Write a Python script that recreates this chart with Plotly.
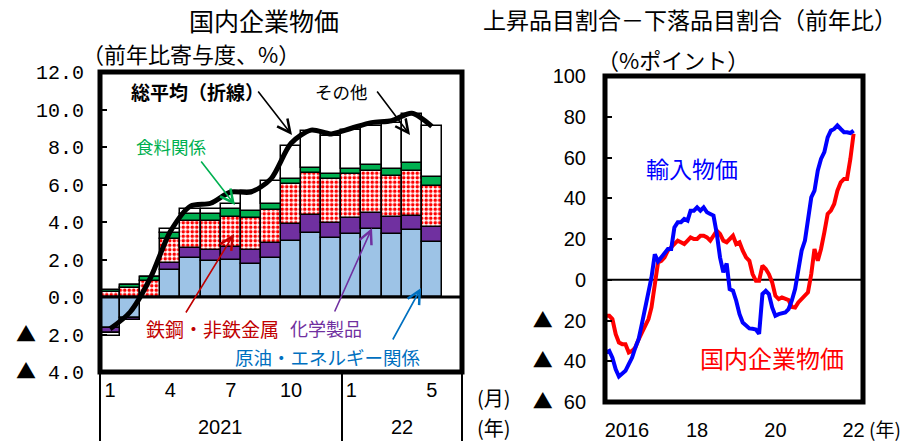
import pandas as pd
import plotly.graph_objects as go

W, H = 910, 441

# ---------------- left panel: contributions to domestic CGPI (y/y, %) ----------------
months = list(range(1, 18))  # 2021/1 .. 2022/5
month_ticks = [1, 4, 7, 10, 13, 17]
month_labels = ["1", "4", "7", "10", "1", "5"]

energy = [-1.65, -1.10, 0.00, 1.42, 2.06, 1.92, 1.96, 1.74, 2.06, 2.99, 3.43, 3.13, 3.38, 3.61, 3.34, 3.56, 2.93]
chemicals = [-0.25, -0.15, 0.00, 0.41, 0.53, 0.59, 0.71, 0.76, 0.83, 0.92, 0.94, 0.83, 0.85, 0.89, 0.92, 0.76, 0.80]
steel = [0.27, 0.50, 0.85, 1.25, 1.49, 1.55, 1.62, 1.72, 1.73, 2.13, 2.26, 2.31, 2.35, 2.22, 2.19, 2.40, 2.19]
food = [0.10, 0.15, 0.21, 0.35, 0.35, 0.39, 0.39, 0.39, 0.35, 0.23, 0.27, 0.30, 0.23, 0.30, 0.36, 0.41, 0.48]
other = [-0.20, 0.00, 0.00, 0.18, 0.29, 0.27, 0.30, 1.03, 1.21, 1.78, 1.96, 2.01, 2.08, 2.10, 2.49, 2.61, 2.72]
total = [-1.7, -0.8, 1.0, 3.5, 4.85, 5.0, 5.6, 5.6, 6.3, 8.2, 8.9, 8.7, 9.0, 9.3, 9.4, 9.8, 9.1]

TRI = "<span style=\"font-family:'Noto Sans CJK JP'\">▲</span>"
left_yticks = [-4, -2, 0, 2, 4, 6, 8, 10, 12]
left_ylabels = [TRI + "\u00a04.0", TRI + "\u00a02.0", "0.0", "2.0", "4.0", "6.0", "8.0", "10.0", "12.0"]

# ---------------- right panel: share rising minus share falling (y/y, % points) ----------------
dates = pd.date_range("2016-01-01", "2022-05-01", freq="MS")
import_prices = [
    -35.7, -34.9, -38.2, -43.9, -47.5, -46.3, -44.7, -41.4, -38.2, -33.3, -29.2, -21.8,
    -13.6, -4.6, 1.1, 12.5, 9.0, 11.0, 13.4, 15.1, 15.1, 25.7, 28.2, 28.2,
    29.8, 29.0, 33.9, 33.9, 35.5, 33.9, 35.5, 33.1, 32.3, 31.5, 22.5, 11.0,
    3.6, 8.0, -4.6, -5.4, -10.3, -16.9, -21.0, -22.6, -23.9, -24.1, -24.4, -26.6,
    -7.0, -5.4, -7.0, -13.6, -17.7, -16.9, -16.6, -16.1, -14.4, -10.3, -4.6, 3.6,
    14.3, 19.2, 29.0, 40.4, 43.7, 53.6, 59.3, 62.6, 69.9, 73.2, 74.0, 75.7,
    74.0, 72.4, 72.4, 72.0, 73.2,
]
domestic_prices = [
    -17.7, -17.7, -19.3, -26.7, -30.8, -31.6, -31.6, -35.7, -34.9, -33.3, -29.2, -25.9,
    -21.8, -19.3, -13.6, -0.5, 8.5, 9.3, 11.0, 14.3, 15.9, 17.5, 19.2, 18.4,
    17.5, 19.2, 20.8, 20.0, 20.0, 21.6, 21.6, 20.8, 19.2, 21.6, 24.1, 22.5,
    19.2, 18.4, 20.0, 21.6, 17.5, 18.4, 14.3, 11.0, 9.3, 2.8, -0.5, -0.5,
    6.9, 5.3, 2.8, -1.3, -7.9, -9.5, -8.7, -9.5, -10.0, -13.3, -13.6, -11.1,
    -9.5, -7.9, -6.2, 2.8, 15.1, 9.3, 15.1, 23.3, 32.3, 33.9, 37.2, 43.7,
    47.8, 49.5, 49.5, 59.3, 71.6,
]
year_ticks = ["2016-07-15", "2018-05-01", "2020-05-01", "2022-05-01"]
year_labels = ["2016", "18", "20", "22"]
right_yticks = [-60, -40, -20, 0, 20, 40, 60, 80, 100]
right_ylabels = [TRI + "\u00a0\u00a060", TRI + "\u00a0\u00a040", TRI + "\u00a0\u00a020",
                 "0", "20", "40", "60", "80", "100"]

JP = "Noto Sans CJK JP"
NUM = "Liberation Sans, Noto Sans CJK JP"
MONO = "Liberation Mono, Noto Sans CJK JP"


def px(x):
    return x / W


def py(y):
    return 1 - y / H


LEFT_DOM_X = [px(100), px(462)]
LEFT_DOM_Y = [py(372), py(72)]
RIGHT_DOM_X = [px(605), px(863)]
RIGHT_DOM_Y = [py(402), py(76)]

fig = go.Figure()

edge = dict(color="black", width=1.5)
fig.add_trace(go.Bar(x=months, y=energy, marker=dict(color="#9dc3e6", line=edge), name="原油・エネルギー関係"))
fig.add_trace(go.Bar(x=months, y=chemicals, marker=dict(color="#7030a0", line=edge), name="化学製品"))
fig.add_trace(go.Bar(
    x=months, y=steel, name="鉄鋼・非鉄金属",
    marker=dict(color="white", line=edge,
                pattern=dict(shape=".", fgcolor="#ff0000", bgcolor="white", size=4.5, solidity=0.5, fillmode="replace")),
))
fig.add_trace(go.Bar(x=months, y=food, marker=dict(color="#00b050", line=edge), name="食料関係"))
fig.add_trace(go.Bar(x=months, y=other, marker=dict(color="white", line=edge), name="その他"))
fig.add_trace(go.Scatter(x=months, y=total, mode="lines", name="総平均",
                         line=dict(color="black", width=5, shape="spline", smoothing=0.8)))

fig.add_trace(go.Scatter(x=dates, y=domestic_prices, mode="lines", name="国内企業物価",
                         line=dict(color="#ff0000", width=4), xaxis="x2", yaxis="y2"))
fig.add_trace(go.Scatter(x=dates, y=import_prices, mode="lines", name="輸入物価",
                         line=dict(color="#0000ff", width=4), xaxis="x2", yaxis="y2"))

fig.update_layout(
    width=W, height=H, margin=dict(l=0, r=0, t=0, b=0, autoexpand=False),
    paper_bgcolor="white", plot_bgcolor="white", showlegend=False,
    barmode="relative", bargap=0,
    xaxis=dict(domain=LEFT_DOM_X, range=[0.5, 18.5], tickvals=month_ticks, ticktext=month_labels,
               ticks="", showgrid=False, zeroline=False, showline=False, automargin=False,
               tickfont=dict(family=NUM, size=20, color="black"), ticklabelstandoff=4),
    yaxis=dict(domain=LEFT_DOM_Y, range=[-4, 12], tickvals=left_yticks, ticktext=left_ylabels,
               ticks="inside", ticklen=7, tickwidth=2, tickcolor="black", automargin=False,
               showgrid=False, zeroline=False, showline=False,
               tickfont=dict(family=MONO, size=20, color="black"), ticklabelstandoff=15),
    xaxis2=dict(domain=RIGHT_DOM_X, type="date", range=["2015-12-23", "2022-07-28"],
                tickvals=year_ticks, ticktext=year_labels, ticks="", showgrid=False,
                zeroline=False, showline=False, anchor="y2", automargin=False,
                tickfont=dict(family=NUM, size=20, color="black"), ticklabelstandoff=14),
    yaxis2=dict(domain=RIGHT_DOM_Y, range=[-60, 100], tickvals=right_yticks, ticktext=right_ylabels,
                ticks="inside", ticklen=7, tickwidth=2, tickcolor="black", anchor="x2",
                showgrid=False, zeroline=False, showline=False, automargin=False,
                tickfont=dict(family=NUM, size=20, color="black"), ticklabelstandoff=18),
)

shapes = [
    # frames
    dict(type="rect", xref="paper", yref="paper", x0=LEFT_DOM_X[0], x1=LEFT_DOM_X[1],
         y0=LEFT_DOM_Y[0], y1=LEFT_DOM_Y[1], line=dict(color="black", width=5), layer="above"),
    dict(type="rect", xref="paper", yref="paper", x0=RIGHT_DOM_X[0], x1=RIGHT_DOM_X[1],
         y0=RIGHT_DOM_Y[0], y1=RIGHT_DOM_Y[1], line=dict(color="black", width=5), layer="above"),
    # zero lines
    dict(type="line", xref="paper", yref="y", x0=LEFT_DOM_X[0], x1=LEFT_DOM_X[1], y0=0, y1=0,
         line=dict(color="black", width=3), layer="above"),
    dict(type="line", xref="paper", yref="y2", x0=RIGHT_DOM_X[0], x1=RIGHT_DOM_X[1], y0=0, y1=0,
         line=dict(color="black", width=2), layer="below"),
]
# month / year table under the left panel
for xv in (100, 342, 462):
    shapes.append(dict(type="line", xref="paper", yref="paper", x0=px(xv), x1=px(xv),
                       y0=py(372), y1=0, line=dict(color="black", width=2)))
fig.update_layout(shapes=shapes)


def label(text, x, y, size, color="black", bold=False, family=JP, xanchor="center"):
    if bold:
        text = "<b>" + text + "</b>"
    fig.add_annotation(text=text, x=px(x), y=py(y), xref="paper", yref="paper",
                       xanchor=xanchor, yanchor="middle", showarrow=False,
                       font=dict(family=family, size=size, color=color))


def arrow(x_tail, y_tail, x_head, y_head, color):
    fig.add_annotation(text="", x=px(x_head), y=py(y_head), xref="paper", yref="paper",
                       ax=x_tail - x_head, ay=y_tail - y_head, showarrow=True,
                       arrowhead=5, arrowsize=1.6, arrowwidth=1.6, arrowcolor=color)


# titles
label("国内企業物価", 264, 20, 25)
label("（前年比寄与度、%）", 191, 53, 22)
label("上昇品目割合－下落品目割合（前年比）", 690, 19, 23)
label("（%ポイント）", 673, 59, 22)

# left panel labels
label("総平均（折線）", 197, 92, 19, bold=True)
label("その他", 341, 92, 17.5)
label("食料関係", 171, 147, 17.5, color="#00b050")
label("鉄鋼・非鉄金属", 212, 328, 19, color="#c00000")
label("化学製品", 326, 328, 18, color="#7030a0")
label("原油・エネルギー関係", 328, 357, 18.5, color="#0070c0")

arrow(257, 90, 292, 135, "black")
arrow(376, 90, 410, 135, "black")
arrow(200, 160, 235, 205, "#00b050")
arrow(185, 314, 234, 234, "#c00000")
arrow(334, 313, 372, 228, "#7030a0")
arrow(392, 341, 421, 288, "#0070c0")

label("2021", 220, 427, 20, family=NUM)
label("22", 402, 427, 20, family=NUM)
label("(月)", 494, 397, 20)
label("(年)", 494, 427, 20)

# right panel labels
label("輸入物価", 692, 168, 23, color="#0000ff")
label("国内企業物価", 772, 357, 24, color="#ff0000")
label("(年)", 885, 428, 19)

fig.write_html("out.html")
